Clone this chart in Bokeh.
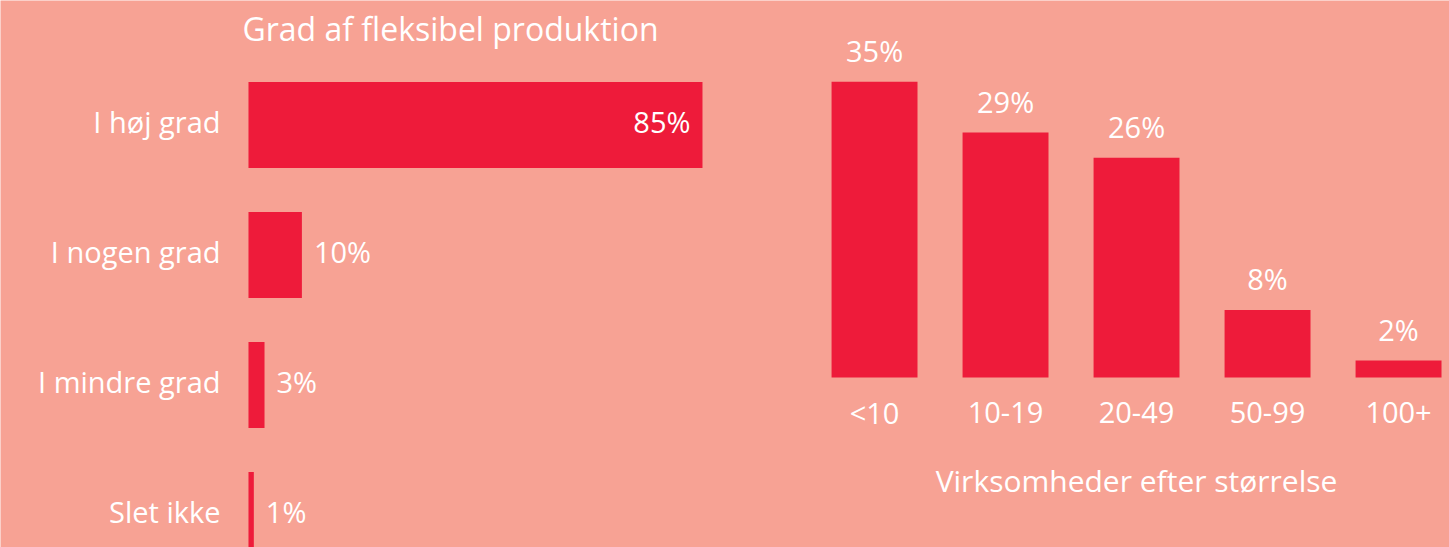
from bokeh.plotting import figure
from bokeh.models import Range1d, ColumnDataSource
from bokeh.core.properties import value
from bokeh.embed import file_html
from bokeh.resources import INLINE

# ---- data ----
flex_categories = ["I høj grad", "I nogen grad", "I mindre grad", "Slet ikke"]
flex_values = [85, 10, 3, 1]
flex_title = "Grad af fleksibel produktion"

size_categories = ["<10", "10-19", "20-49", "50-99", "100+"]
size_values = [35, 29, 26, 8, 2]
size_axis_label = "Virksomheder efter størrelse"

BG = "#F7A294"
BAR = "#EE1B3A"
TXT = "#FFFFFF"
FONT = value("Open Sans")
FS = "29px"

W, H = 1449, 547

# left chart uses default ranges, right chart uses extra ranges "r"
p = figure(width=W, height=H, output_backend="svg", toolbar_location=None,
           x_range=Range1d(-46.43, 224.86), y_range=Range1d(3.25, -0.9577),
           x_axis_location=None, y_axis_location=None,
           min_border_left=0, min_border_right=0,
           min_border_top=0, min_border_bottom=0)
p.extra_x_ranges = {"r": Range1d(-6.672, 4.389)}
p.extra_y_ranges = {"r": Range1d(-20.12, 44.62)}
p.background_fill_color = BG
p.border_fill_color = BG
p.outline_line_color = None
p.grid.visible = False

# ---- left: horizontal bars ----
idx1 = list(range(len(flex_categories)))
src1 = ColumnDataSource(dict(y=idx1, v=flex_values, cat=flex_categories,
                             zero=[0] * len(idx1),
                             lab=[f"{v}%" for v in flex_values]))
p.hbar(y="y", left=0, right="v", height=0.66, source=src1,
       fill_color=BAR, line_color=None)

inside = ColumnDataSource(dict(y=[i for i, v in zip(idx1, flex_values) if v > 50],
                               v=[v for v in flex_values if v > 50],
                               lab=[f"{v}%" for v in flex_values if v > 50]))
outside = ColumnDataSource(dict(y=[i for i, v in zip(idx1, flex_values) if v <= 50],
                                v=[v for v in flex_values if v <= 50],
                                lab=[f"{v}%" for v in flex_values if v <= 50]))
p.text(x="v", y="y", text="lab", source=inside, text_align="right",
       text_baseline="middle", x_offset=-12, y_offset=-4, text_color=TXT,
       text_font=FONT, text_font_size=FS)
p.text(x="v", y="y", text="lab", source=outside, text_align="left",
       text_baseline="middle", x_offset=12, y_offset=-4, text_color=TXT,
       text_font=FONT, text_font_size=FS)
# category labels
p.text(x="zero", y="y", text="cat", source=src1, text_align="right",
       text_baseline="middle", x_offset=-28, y_offset=-4, text_color=TXT,
       text_font=FONT, text_font_size=FS)
# title
p.text(x=[0], y=[-0.5], text=[flex_title], text_align="left",
       text_baseline="middle", x_offset=-6, y_offset=-32, text_color=TXT,
       text_font=FONT, text_font_size="32px")

# ---- right: vertical bars ----
idx2 = list(range(len(size_categories)))
src2 = ColumnDataSource(dict(x=idx2, v=size_values, cat=size_categories,
                             zero=[0] * len(idx2),
                             lab=[f"{v}%" for v in size_values]))
p.vbar(x="x", bottom=0, top="v", width=0.656, source=src2,
       fill_color=BAR, line_color=None,
       x_range_name="r", y_range_name="r")
p.text(x="x", y="v", text="lab", source=src2, text_align="center",
       text_baseline="middle", y_offset=-31, text_color=TXT,
       text_font=FONT, text_font_size=FS,
       x_range_name="r", y_range_name="r")
p.text(x="x", y="zero", text="cat", source=src2, text_align="center",
       text_baseline="middle", y_offset=35, text_color=TXT,
       text_font=FONT, text_font_size=FS,
       x_range_name="r", y_range_name="r")
p.text(x=[sum(idx2) / len(idx2)], y=[0], text=[size_axis_label],
       text_align="center", text_baseline="middle", y_offset=103,
       text_color=TXT, text_font=FONT, text_font_size="30px",
       x_range_name="r", y_range_name="r")

open("out.html", "w").write(file_html(p, INLINE))
